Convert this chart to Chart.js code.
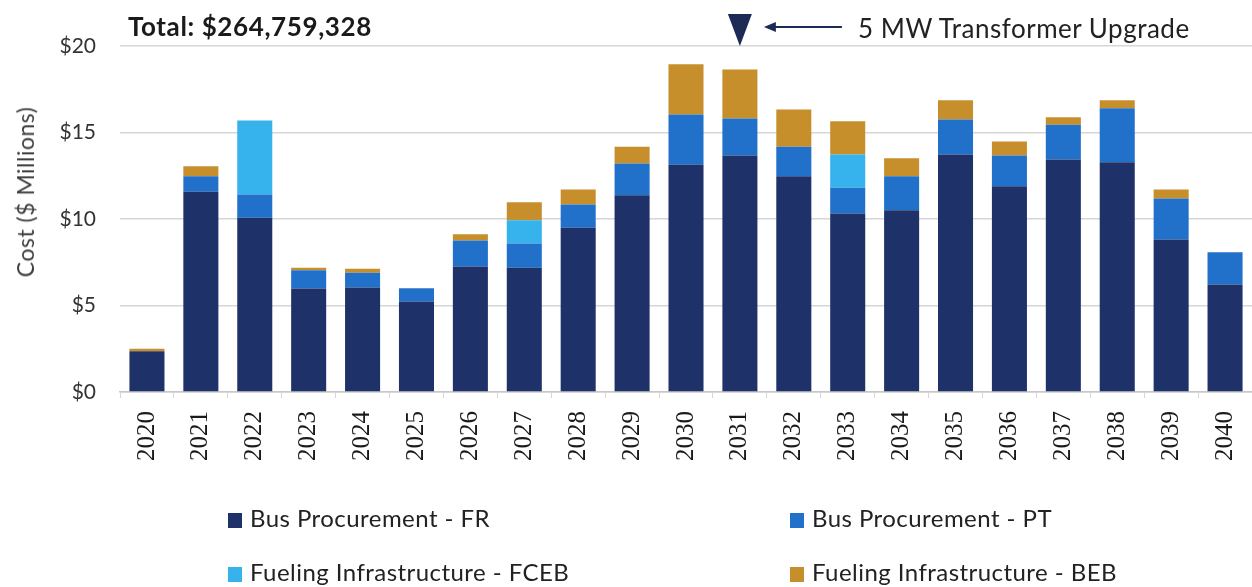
<!DOCTYPE html>
<html>
<head>
<meta charset="utf-8">
<script src="https://cdn.jsdelivr.net/npm/chart.js@4.4.1/dist/chart.umd.min.js"></script>
<style>
  body { margin: 0; background: #fff; font-family: Lato, sans-serif; }
  #wrap { position: relative; width: 1252px; height: 587px; overflow: hidden; }
  #c { position: absolute; left: 0; top: 0; }
  .txt { position: absolute; white-space: nowrap; color: #1a1a1a; }
  #total { left: 128px; top: 9px; font-weight: bold; font-size: 26px; letter-spacing: 0.6px; line-height: 34px; }
  #note { left: 858px; top: 11px; font-size: 26px; letter-spacing: 0.5px; color: #222; line-height: 34px; }
  #ytitle { left: 25px; top: 192px; font-size: 23px; letter-spacing: 0.5px; color: #404040;
            transform: translate(-50%, -50%) rotate(-90deg); }
  .leg { position: absolute; font-size: 24px; letter-spacing: 0.45px; color: #222; white-space: nowrap; line-height: 28px; }
  .leg i { display: inline-block; width: 14px; height: 15px; margin-right: 8px; vertical-align: -1px; }
</style>
</head>
<body>
<div id="wrap">
  <canvas id="c" width="1252" height="587"></canvas>
  <div class="txt" id="total">Total: $264,759,328</div>
  <div class="txt" id="note">5 MW Transformer Upgrade</div>
  <div class="txt" id="ytitle">Cost ($ Millions)</div>
  <div id="legend"></div>
</div>
<script>
// values in $ millions
const years = ['2020', '2021', '2022', '2023', '2024', '2025', '2026', '2027', '2028', '2029', '2030',
               '2031', '2032', '2033', '2034', '2035', '2036', '2037', '2038', '2039', '2040'];
const busFR    = [2.35, 11.57, 10.07, 5.98, 6.04, 5.23, 7.25, 7.18, 9.49, 11.38, 13.15,
                  13.67, 12.47, 10.32, 10.51, 13.73, 11.90, 13.44, 13.28, 8.82, 6.21];
const busPT    = [0, 0.90, 1.35, 1.06, 0.85, 0.77, 1.51, 1.40, 1.35, 1.83, 2.89,
                  2.14, 1.70, 1.48, 1.96, 2.02, 1.77, 2.01, 3.12, 2.36, 1.87];
const fuelFCEB = [0, 0, 4.27, 0, 0, 0, 0, 1.35, 0, 0, 0,
                  0, 0, 1.93, 0, 0, 0, 0, 0, 0, 0];
const fuelBEB  = [0.15, 0.58, 0, 0.14, 0.23, 0, 0.36, 1.04, 0.87, 0.96, 2.91,
                  2.83, 2.16, 1.92, 1.04, 1.12, 0.81, 0.43, 0.47, 0.53, 0];
const yTicks = [0, 5, 10, 15, 20];
const upgradeYear = '2031';

const colors = {
  fr: '#1f3169',
  pt: '#2170c9',
  fceb: '#36b2ec',
  beb: '#c68f2b',
  grid: '#d6d6d6',
  ink: '#1c2a55'
};

const series = [
  { label: 'Bus Procurement - FR', data: busFR, color: colors.fr },
  { label: 'Bus Procurement - PT', data: busPT, color: colors.pt },
  { label: 'Fueling Infrastructure - FCEB', data: fuelFCEB, color: colors.fceb },
  { label: 'Fueling Infrastructure - BEB', data: fuelBEB, color: colors.beb }
];

// legend, two columns like the original
const legendPos = [[228, 504], [790, 504], [228, 558], [790, 558]];
const legendEl = document.getElementById('legend');
series.forEach((s, i) => {
  const d = document.createElement('div');
  d.className = 'leg';
  d.style.left = legendPos[i][0] + 'px';
  d.style.top = legendPos[i][1] + 'px';
  d.innerHTML = '<i style="background:' + s.color + '"></i>' + s.label;
  legendEl.appendChild(d);
});

// marker triangle + arrow above the upgrade year
const upgradeMarker = {
  id: 'upgradeMarker',
  afterDraw(chart) {
    const ctx = chart.ctx;
    const x = chart.scales.x.getPixelForValue(years.indexOf(upgradeYear));
    const top = chart.chartArea.top;
    ctx.save();
    ctx.fillStyle = colors.ink;
    ctx.strokeStyle = colors.ink;
    ctx.beginPath();
    ctx.moveTo(x - 12, top - 32);
    ctx.lineTo(x + 12, top - 32);
    ctx.lineTo(x, top);
    ctx.closePath();
    ctx.fill();
    // arrow pointing back at the triangle
    const ay = top - 19;
    ctx.lineWidth = 2;
    ctx.beginPath();
    ctx.moveTo(x + 30, ay);
    ctx.lineTo(x + 102, ay);
    ctx.stroke();
    ctx.beginPath();
    ctx.moveTo(x + 24, ay);
    ctx.lineTo(x + 36, ay - 5);
    ctx.lineTo(x + 36, ay + 5);
    ctx.closePath();
    ctx.fill();
    ctx.restore();
  }
};

new Chart(document.getElementById('c'), {
  type: 'bar',
  data: {
    labels: years,
    datasets: series.map(s => ({
      label: s.label,
      data: s.data,
      backgroundColor: s.color,
      borderWidth: 0,
      categoryPercentage: 1,
      barPercentage: 0.65
    }))
  },
  plugins: [upgradeMarker],
  options: {
    responsive: false,
    animation: false,
    events: [],
    layout: { padding: { top: 46, right: 0, bottom: 114, left: 0 } },
    plugins: {
      legend: { display: false },
      tooltip: { enabled: false }
    },
    scales: {
      x: {
        stacked: true,
        afterFit: s => { s.height = 81; s.paddingLeft = 0; s.paddingRight = 0; },
        grid: {
          offset: true,
          drawOnChartArea: false,
          drawTicks: true,
          tickLength: 6,
          color: colors.grid
        },
        border: { display: true, color: '#c8c8c8', width: 1.5 },
        ticks: {
          minRotation: 90,
          maxRotation: 90,
          padding: 13,
          color: '#1a1a1a',
          font: { family: "'Liberation Serif'", size: 25 }
        }
      },
      y: {
        stacked: true,
        min: 0,
        max: 20,
        afterFit: s => { s.width = 120; },
        afterBuildTicks: s => { s.ticks = yTicks.map(v => ({ value: v })); },
        grid: { color: colors.grid, lineWidth: 1.5, drawTicks: false },
        border: { display: false },
        ticks: {
          padding: 24,
          color: '#333',
          font: { family: 'Lato', size: 21 },
          callback: v => '$' + v
        }
      }
    }
  }
});
</script>
</body>
</html>
